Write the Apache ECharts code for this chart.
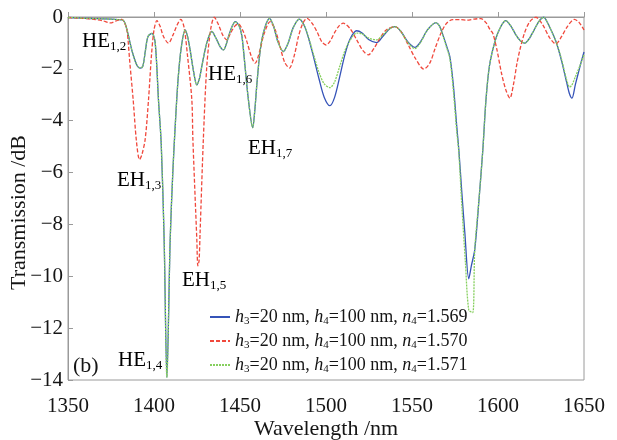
<!DOCTYPE html>
<html>
<head>
<meta charset="utf-8">
<script src="https://cdn.jsdelivr.net/npm/echarts@6/dist/echarts.min.js"></script>
<style>
  html, body { margin: 0; padding: 0; background: #ffffff; }
  #chart { width: 617px; height: 440px; }
</style>
</head>
<body>
<div id="chart"></div>
<script>
// Transmission spectra for three values of the outer-layer index n4
const n4Values = ['1.569', '1.570', '1.571'];

// n4 = 1.569
const wlA = [1350,1355,1360,1365,1370,1375,1379,1382.3,1384.3,1387.2,1390,1392,1393.5,1395,1396.5,1398.8,1400.7,1402.6,1404.2,1405.9,1407.5,1409.4,1411,1412.5,1414,1415.8,1418.1,1419.5,1421,1423,1424.9,1426.5,1427.8,1430.7,1433.6,1436.5,1438.5,1440.4,1442,1443.3,1445.5,1447.2,1449.5,1451,1452,1454.9,1457.4,1458.6,1459.8,1461.2,1462.7,1465,1467.1,1469.5,1472,1475.2,1478,1481,1484.5,1487.5,1490,1493,1496,1499,1502.3,1505,1508,1511,1514,1517.8,1521,1525,1529.4,1533,1537,1540.1,1543.5,1547.5,1551.7,1555,1559,1563.9,1566,1568,1570,1572,1574,1576,1577.2,1579,1580.7,1583,1584.5,1586.5,1589,1591.2,1593,1595,1598,1601,1604.5,1607.5,1610.5,1613,1615.6,1618,1621,1624,1626.6,1629,1631.5,1634,1637,1639.8,1641.5,1643,1645,1647.5,1650];
const dbA = [-0.02,-0.03,-0.05,-0.06,-0.07,-0.08,-0.1,-0.14,-0.5,-1.3,-1.85,-1.97,-1.9,-1.3,-0.75,-0.63,-1.0,-3.2,-4.9,-8.6,-13.9,-8.6,-5.9,-4.0,-2.4,-1.2,-0.5,-0.75,-1.27,-2.1,-2.62,-2.35,-1.9,-1.0,-0.56,-0.88,-1.15,-1.27,-1.05,-0.76,-0.35,-0.18,-0.35,-0.7,-1.27,-3.2,-4.27,-3.6,-2.6,-1.6,-0.88,-0.3,-0.05,-0.35,-0.95,-1.33,-1.0,-0.4,-0.08,-0.35,-0.85,-1.6,-2.4,-3.1,-3.42,-3.1,-2.3,-1.45,-0.85,-0.53,-0.62,-0.88,-0.99,-0.75,-0.45,-0.37,-0.55,-0.95,-1.17,-0.95,-0.5,-0.22,-0.35,-0.7,-1.1,-1.53,-2.6,-4.2,-5.1,-6.8,-8.3,-10.1,-9.6,-8.96,-7.0,-5.1,-3.2,-1.9,-1.0,-0.45,-0.14,-0.35,-0.7,-0.92,-1.01,-0.85,-0.5,-0.15,-0.01,-0.25,-0.6,-1.0,-1.7,-2.49,-2.95,-3.13,-2.6,-1.95,-1.35];

// n4 = 1.570
const wlB = [1350,1355,1360,1365,1370,1374.6,1378,1381.4,1383,1384.3,1386,1387.9,1389.8,1391.6,1393,1394.9,1396.8,1398.5,1400,1401.7,1403.5,1405.5,1408.4,1411,1413.5,1415.6,1417.5,1419.5,1422,1422.6,1424.9,1425.5,1426.2,1426.8,1428.7,1430.7,1433,1435.1,1437.5,1440,1442.3,1444.5,1447,1449,1451.5,1454,1456.5,1458.8,1461.5,1464,1467.5,1470.5,1473.5,1476,1478.7,1481.5,1484,1486.5,1489,1492,1495,1497.5,1500,1502.5,1505,1507.5,1510,1514,1518,1521.5,1524.6,1528,1531.5,1535,1540.1,1544,1548,1552,1556.9,1560.4,1563.5,1566.8,1570,1573.7,1578,1582,1586,1590,1593,1595.5,1597,1599.5,1602,1604.5,1606.9,1609,1611,1612.7,1615.5,1618.5,1622,1626,1630,1633.6,1637,1640.5,1644.4,1647,1650];
const dbB = [-0.02,-0.04,-0.06,-0.09,-0.14,-0.23,-0.15,-0.09,-0.25,-0.5,-1.8,-3.2,-4.8,-5.5,-5.3,-4.7,-3.2,-1.5,-0.5,-0.14,-0.35,-0.75,-1.01,-0.7,-0.3,-0.09,-0.4,-1.5,-3.2,-4.7,-8.6,-9.6,-9.4,-8.3,-4.7,-1.9,-0.45,-0.01,-0.3,-0.7,-0.88,-0.62,-0.35,-0.27,-0.5,-0.95,-1.5,-1.78,-1.3,-0.65,-0.18,-0.5,-1.2,-1.75,-1.97,-1.5,-0.75,-0.25,-0.05,-0.25,-0.6,-0.95,-1.08,-0.92,-0.6,-0.35,-0.24,-0.45,-0.9,-1.3,-1.46,-1.2,-0.8,-0.5,-0.37,-0.6,-1.1,-1.6,-2.01,-1.77,-1.2,-0.63,-0.25,-0.1,-0.1,-0.12,-0.08,-0.06,-0.22,-0.5,-0.63,-1.3,-2.16,-2.8,-3.13,-2.6,-1.8,-1.27,-0.6,-0.18,-0.01,-0.3,-0.8,-1.04,-0.75,-0.35,-0.09,-0.2,-0.5];

// n4 = 1.571
const wlC = [1350,1355,1360,1365,1370,1375,1379,1382.3,1384.3,1387.2,1390,1392,1393.5,1395,1396.5,1398.8,1400.7,1402.6,1404.2,1405.9,1407.5,1409.4,1411,1412.5,1414,1415.8,1418.1,1419.5,1421,1423,1424.9,1426.5,1427.8,1430.7,1433.6,1436.5,1438.5,1440.4,1442,1443.3,1445.5,1447.2,1449.5,1451,1452,1454.9,1457.4,1458.6,1459.8,1461.2,1462.7,1465,1467.1,1469.5,1472,1475.2,1478,1481,1484.5,1487.5,1490,1493,1496,1499,1502.3,1505,1508,1511,1514,1517.8,1521,1525,1529.4,1533,1537,1540.1,1543.5,1547.5,1551.7,1555,1559,1563.9,1566,1568,1570,1572,1574,1576,1577.2,1579,1581,1583,1585.3,1586.5,1589,1591.2,1593,1595,1598,1601,1604.5,1607.5,1610.5,1613,1615.6,1618,1621,1624,1626.6,1629,1631.5,1634,1637,1639.8,1641.7,1643,1645,1647.5,1650];
const dbC = [-0.02,-0.03,-0.05,-0.06,-0.07,-0.08,-0.1,-0.14,-0.5,-1.3,-1.85,-1.97,-1.9,-1.3,-0.75,-0.63,-1.0,-3.2,-4.9,-8.6,-13.9,-8.6,-5.9,-4.0,-2.4,-1.2,-0.5,-0.75,-1.27,-2.1,-2.62,-2.35,-1.9,-1.0,-0.56,-0.88,-1.15,-1.27,-1.05,-0.76,-0.35,-0.18,-0.35,-0.7,-1.27,-3.2,-4.27,-3.6,-2.6,-1.6,-0.88,-0.3,-0.05,-0.35,-0.95,-1.33,-1.0,-0.4,-0.08,-0.35,-0.82,-1.5,-2.15,-2.58,-2.72,-2.5,-1.9,-1.3,-0.9,-0.62,-0.65,-0.82,-0.88,-0.7,-0.45,-0.37,-0.56,-0.98,-1.22,-0.98,-0.5,-0.22,-0.35,-0.72,-1.15,-1.6,-2.8,-4.4,-5.2,-7.3,-9.4,-11.3,-11.4,-8.96,-7.0,-5.1,-3.2,-1.9,-1.0,-0.45,-0.14,-0.35,-0.7,-0.92,-1.01,-0.85,-0.5,-0.15,-0.01,-0.25,-0.6,-1.0,-1.65,-2.4,-2.7,-2.62,-2.3,-1.9,-1.45];

// Mode labels placed beside their resonance dips
const modeMain = ['HE', 'EH', 'HE', 'EH', 'HE', 'EH'];
const modeSub  = ['1,2', '1,3', '1,4', '1,5', '1,6', '1,7'];
const modePos  = [[82, 41], [117, 180], [118, 360], [182, 280], [208, 74], [248, 148]];

const xTicks = { min: 1350, max: 1650, step: 50 };
const yTicks = { min: -14, max: 0, step: 2 };

const SERIF = 'Liberation Serif';
const INK = '#151515';
const FRAME = '#9a9a9a';

const pairs = (xs, ys) => xs.map((x, i) => [x, ys[i]]);
const minus = v => (v < 0 ? '\u2212' + (-v) : String(v));

const chart = echarts.init(document.getElementById('chart'), null, { renderer: 'canvas' });

const subRich = {
  m: { fontFamily: SERIF, fontSize: 21, lineHeight: 24, color: INK },
  s: { fontFamily: SERIF, fontSize: 13, lineHeight: 13, padding: [12, 0, 0, 0], color: INK }
};

const legendRich = {
  i: { fontFamily: SERIF, fontStyle: 'italic', fontSize: 18, lineHeight: 20, color: INK },
  t: { fontFamily: SERIF, fontSize: 18, lineHeight: 20, color: INK },
  s: { fontFamily: SERIF, fontSize: 11, lineHeight: 11, padding: [9, 0, 0, 0], color: INK }
};

const seriesNames = n4Values.map(n => 'n4=' + n);
const colors = ['#3553b8', '#f0483c', '#86cf5e'];
const dashes = ['solid', [4, 2], [2, 1]];
const datasets = [pairs(wlA, dbA), pairs(wlB, dbB), pairs(wlC, dbC)];

chart.setOption({
  backgroundColor: '#ffffff',
  animation: false,
  grid: {
    left: 68, right: 33, top: 17, bottom: 60,
    outerBoundsMode: 'none',
    containLabel: false,
    show: true, borderColor: FRAME, borderWidth: 1, backgroundColor: 'transparent'
  },
  xAxis: {
    type: 'value',
    min: xTicks.min, max: xTicks.max, interval: xTicks.step,
    name: 'Wavelength /nm',
    nameLocation: 'middle',
    nameGap: 38,
    nameMoveOverlap: false,
    nameTextStyle: { fontFamily: SERIF, fontSize: 22, color: INK },
    axisLine: { show: true, lineStyle: { color: FRAME, width: 1 } },
    axisTick: { show: true, inside: true, length: 5, lineStyle: { color: FRAME } },
    axisLabel: { fontFamily: SERIF, fontSize: 21, color: INK, margin: 16, formatter: v => String(v) },
    splitLine: { show: false }
  },
  yAxis: {
    type: 'value',
    min: yTicks.min, max: yTicks.max, interval: yTicks.step,
    name: 'Transmission /dB',
    nameLocation: 'middle',
    nameGap: 38,
    nameMoveOverlap: false,
    nameRotate: 90,
    nameTextStyle: { fontFamily: SERIF, fontSize: 22, color: INK, padding: [0, 28, 0, 0] },
    axisLine: { show: true, lineStyle: { color: FRAME, width: 1 } },
    axisTick: { show: true, inside: true, length: 5, lineStyle: { color: FRAME } },
    axisLabel: { fontFamily: SERIF, fontSize: 21, color: INK, margin: 5, formatter: minus },
    splitLine: { show: false }
  },
  legend: {
    orient: 'vertical',
    left: 209, top: 307,
    padding: 0,
    itemWidth: 20, itemHeight: 12, itemGap: 4,
    itemStyle: { opacity: 0 },
    data: seriesNames,
    formatter: name => {
      const n = name.split('=')[1];
      return '{i|h}{s|3}{t|=20 nm, }{i|h}{s|4}{t|=100 nm, }{i|n}{s|4}{t|=' + n + '}';
    },
    textStyle: { rich: legendRich }
  },
  series: seriesNames.map((name, k) => ({
    name,
    type: 'line',
    data: datasets[k],
    symbol: 'none',
    smooth: 0.3,
    color: colors[k],
    lineStyle: { color: colors[k], width: 1.3, type: dashes[k] },
    z: 2 + k
  })),
  graphic: modeMain.map((m, k) => ({
    type: 'text',
    x: modePos[k][0],
    y: modePos[k][1],
    z: 10,
    style: {
      text: '{m|' + m + '}{s|' + modeSub[k] + '}',
      rich: subRich,
      align: 'left',
      verticalAlign: 'middle',
      textAlign: 'left',
      textVerticalAlign: 'middle'
    }
  })).concat([{
    type: 'text',
    x: 73, y: 366, z: 10,
    style: {
      text: '(b)',
      font: '22px "Liberation Serif"',
      fill: INK,
      align: 'left', verticalAlign: 'middle',
      textAlign: 'left', textVerticalAlign: 'middle'
    }
  }])
});
</script>
</body>
</html>
